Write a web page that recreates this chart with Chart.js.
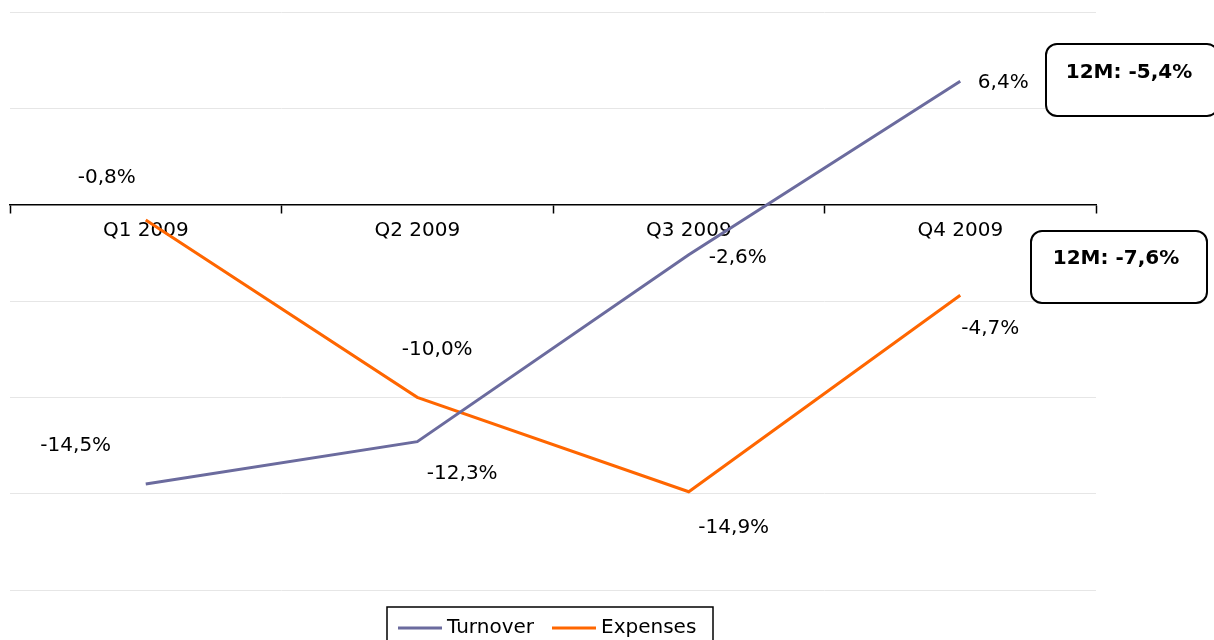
<!DOCTYPE html>
<html>
<head>
<meta charset="utf-8">
<script src="https://cdn.jsdelivr.net/npm/chart.js@4.4.1/dist/chart.umd.min.js"></script>
<style>
  html, body { margin: 0; padding: 0; background: #fff; }
  #wrap { width: 1214px; height: 640px; }
</style>
</head>
<body>
<div id="wrap"><canvas id="chart"></canvas></div>
<script>
const quarters = ["Q1 2009", "Q2 2009", "Q3 2009", "Q4 2009"];
const turnover = [-14.5, -12.3, -2.6, 6.4];
const expenses = [-0.8, -10.0, -14.9, -4.7];
const yearNotes = ["12M: -5,4%", "12M: -7,6%"];

// where each value label sits relative to its point (px)
const turnoverLabelPos = [[-70, -38], [45, 32], [49, 3], [43, 1]];
const expensesLabelPos = [[-39, -42], [20, -48], [45, 36], [30, 34]];

const FONT = "'DejaVu Sans', Verdana, sans-serif";
const fmt = v => v.toFixed(1).replace(".", ",") + "%";

const valueLabels = {
  id: "valueLabels",
  afterDatasetsDraw(chart) {
    const ctx = chart.ctx;
    ctx.save();
    ctx.font = "20px " + FONT;
    ctx.fillStyle = "#000";
    ctx.textAlign = "center";
    ctx.textBaseline = "middle";
    chart.data.datasets.forEach((ds, i) => {
      chart.getDatasetMeta(i).data.forEach((pt, j) => {
        const off = ds.labelPos[j];
        ctx.fillText(fmt(ds.data[j]), pt.x + off[0], pt.y + off[1]);
      });
    });
    ctx.restore();
  }
};

function roundBox(ctx, x, y, w, h, r) {
  ctx.beginPath();
  ctx.moveTo(x + r, y);
  ctx.arcTo(x + w, y, x + w, y + h, r);
  ctx.arcTo(x + w, y + h, x, y + h, r);
  ctx.arcTo(x, y + h, x, y, r);
  ctx.arcTo(x, y, x + w, y, r);
  ctx.closePath();
}

const noteBoxes = {
  id: "noteBoxes",
  afterDraw(chart) {
    const ctx = chart.ctx;
    const boxes = [
      { x: 1046, y: 44, w: 172, h: 72, ty: 73 },
      { x: 1031, y: 231, w: 176, h: 72, ty: 259 }
    ];
    ctx.save();
    boxes.forEach((b, i) => {
      roundBox(ctx, b.x, b.y, b.w, b.h, 11);
      ctx.fillStyle = "#fff";
      ctx.fill();
      ctx.lineWidth = 2;
      ctx.strokeStyle = "#000";
      ctx.stroke();
      ctx.fillStyle = "#000";
      ctx.font = "bold 20px " + FONT;
      ctx.textAlign = "center";
      ctx.textBaseline = "middle";
      ctx.fillText(yearNotes[i], b.x + b.w / 2 - 3, b.ty);
    });
    ctx.restore();
  }
};

const boxedLegend = {
  id: "boxedLegend",
  afterDraw(chart) {
    const ctx = chart.ctx;
    ctx.save();
    ctx.lineWidth = 1.5;
    ctx.strokeStyle = "#000";
    ctx.strokeRect(387, 607, 326, 50);
    ctx.font = "20px " + FONT;
    ctx.textBaseline = "middle";
    ctx.textAlign = "left";
    let x = 398;
    const y = 628;
    chart.data.datasets.forEach(ds => {
      ctx.strokeStyle = ds.borderColor;
      ctx.lineWidth = 3;
      ctx.beginPath();
      ctx.moveTo(x, y);
      ctx.lineTo(x + 44, y);
      ctx.stroke();
      ctx.fillStyle = "#000";
      ctx.fillText(ds.label, x + 49, y);
      x += 49 + ctx.measureText(ds.label).width + 18;
    });
    ctx.restore();
  }
};

new Chart(document.getElementById("chart"), {
  type: "line",
  data: {
    labels: quarters,
    datasets: [
      {
        label: "Turnover",
        data: turnover,
        borderColor: "#6b6b9e",
        borderWidth: 3,
        pointRadius: 0,
        tension: 0,
        labelPos: turnoverLabelPos
      },
      {
        label: "Expenses",
        data: expenses,
        borderColor: "#ff6600",
        borderWidth: 3,
        pointRadius: 0,
        tension: 0,
        labelPos: expensesLabelPos
      }
    ]
  },
  options: {
    responsive: true,
    maintainAspectRatio: false,
    animation: false,
    layout: { padding: { left: 10, right: 118, top: 12, bottom: 50 } },
    plugins: {
      legend: { display: false },
      tooltip: { enabled: false }
    },
    scales: {
      x: {
        position: { y: 0 },
        offset: true,
        grid: {
          offset: true,
          drawOnChartArea: false,
          drawTicks: true,
          tickLength: 8,
          tickColor: "#000",
          tickWidth: 1.5
        },
        border: { display: true, color: "#000", width: 1.5 },
        ticks: {
          color: "#000",
          font: { family: FONT, size: 20 },
          padding: 6,
          maxRotation: 0
        }
      },
      y: {
        min: -20,
        max: 10,
        ticks: { display: false, stepSize: 5 },
        grid: { color: "#e6e6e6", lineWidth: 1, drawTicks: false },
        border: { display: false }
      }
    }
  },
  plugins: [valueLabels, noteBoxes, boxedLegend]
});
</script>
</body>
</html>
